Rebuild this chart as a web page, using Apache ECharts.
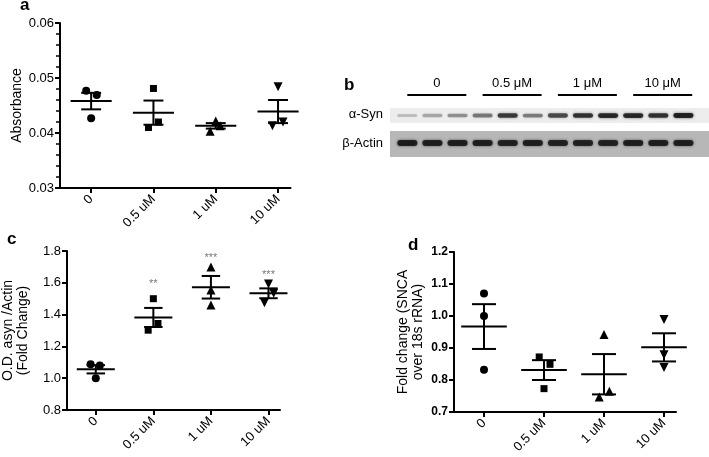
<!DOCTYPE html>
<html>
<head>
<meta charset="utf-8">
<script src="https://cdn.jsdelivr.net/npm/echarts@6/dist/echarts.min.js"></script>
<style>
  html, body { margin: 0; padding: 0; background: #fff; }
  #chart { width: 709px; height: 457px; }
</style>
</head>
<body>
<div id="chart"></div>
<script>
// ---------- 数据 ----------
const doseLabels = ['0', '0.5 uM', '1 uM', '10 uM'];
const blotGroups = ['0', '0.5 μM', '1 μM', '10 μM'];
const groupSymbols = ['circle', 'rect', 'triangle', 'triangle'];
const groupRotate = [0, 0, 0, 180];

// a: Absorbance
const absVals = [[0.0477, 0.0469, 0.0427], [0.0481, 0.0420, 0.0410], [0.0422, 0.0413, 0.0403], [0.0484, 0.0413, 0.0420]];
const absJitter = [[-0.08, 0.09, 0], [0, 0.08, -0.08], [0, 0.07, -0.09], [0, -0.09, 0.08]];
const absMean = [0.0458, 0.0437, 0.0413, 0.0439];
const absSem = [0.0015, 0.0022, 0.0005, 0.0021];

// c: O.D. asyn/Actin
const odVals = [[1.087, 1.08, 1.0], [1.50, 1.344, 1.302], [1.70, 1.555, 1.46], [1.593, 1.534, 1.475]];
const odJitter = [[-0.09, 0.07, 0], [0, 0.08, -0.09], [0, 0, 0], [0, 0.09, -0.07]];
const odMean = [1.056, 1.382, 1.572, 1.534];
const odSem = [0.026, 0.06, 0.071, 0.031];
const odStars = ['', '**', '***', '***'];
const odStarY = [null, 1.59, 1.755, 1.65];

// d: SNCA mRNA
const sncaVals = [[1.07, 1.0, 0.832], [0.872, 0.849, 0.773], [0.942, 0.765, 0.747], [0.989, 0.879, 0.839]];
const sncaJitter = [[0, 0, 0], [-0.08, 0.1, 0], [0, 0.09, -0.08], [0, 0, 0]];
const sncaMean = [0.967, 0.831, 0.818, 0.902];
const sncaSem = [0.07, 0.031, 0.063, 0.044];

// b: western blot band intensity (0-1), 12 lanes
const synBand = [0.22, 0.32, 0.42, 0.52, 0.8, 0.5, 0.72, 0.85, 0.9, 0.9, 0.85, 0.95];
const actinBand = [0.95, 0.93, 0.93, 0.93, 0.9, 0.92, 0.9, 0.9, 0.9, 0.92, 0.92, 0.92];

// ---------- 样式 ----------
const FONT = 'Liberation Sans, Arial, sans-serif';
const INK = '#000';

function xAxisFor(gridIndex, fontSize) {
  return {
    type: 'value', gridIndex, min: -0.5, max: 3.2,
    splitLine: { show: false },
    axisLine: { onZero: false, lineStyle: { color: INK, width: 2 } },
    axisTick: { customValues: [0, 1, 2, 3], length: 5, lineStyle: { color: INK, width: 2 } },
    axisLabel: {
      customValues: [0, 1, 2, 3], rotate: 45, margin: 9,
      color: INK, fontSize, fontFamily: FONT,
      formatter: v => doseLabels[Math.round(v)]
    }
  };
}

function yAxisFor(gridIndex, o) {
  return {
    type: 'value', gridIndex, min: o.min, max: o.max, interval: o.interval,
    name: o.name, nameLocation: 'middle', nameGap: o.nameGap, nameRotate: 90,
    nameTextStyle: { color: INK, fontSize: 14, fontFamily: FONT, lineHeight: 15 },
    splitLine: { show: false },
    axisLine: { onZero: false, lineStyle: { color: INK, width: 2 } },
    axisTick: { length: 5, lineStyle: { color: INK, width: 2 } },
    minorTick: o.minor ? { show: true, splitNumber: 5, length: 4, lineStyle: { color: INK, width: 1.5 } } : { show: false },
    axisLabel: {
      color: INK, fontSize: o.fontSize, fontWeight: o.bold ? 'bold' : 'normal', fontFamily: FONT, margin: 6,
      formatter: v => v.toFixed(o.digits)
    }
  };
}

// 均值 + SEM 误差线
function errBar(halfMean, halfCap) {
  return function (params, api) {
    const x = api.value(0), m = api.value(1), s = api.value(2);
    const p = api.coord([x, m]);
    const hi = api.coord([x, m + s]);
    const lo = api.coord([x, m - s]);
    const w = api.size([halfMean, 0])[0];
    const c = api.size([halfCap, 0])[0];
    const st = { stroke: INK, lineWidth: 2 };
    return {
      type: 'group', children: [
        { type: 'line', shape: { x1: p[0] - w, y1: p[1], x2: p[0] + w, y2: p[1] }, style: st },
        { type: 'line', shape: { x1: hi[0], y1: hi[1], x2: lo[0], y2: lo[1] }, style: st },
        { type: 'line', shape: { x1: hi[0] - c, y1: hi[1], x2: hi[0] + c, y2: hi[1] }, style: st },
        { type: 'line', shape: { x1: lo[0] - c, y1: lo[1], x2: lo[0] + c, y2: lo[1] }, style: st }
      ]
    };
  };
}

const series = [];

function addPanel(axisIndex, vals, jitter, mean, sem, sym, halfMean, halfCap) {
  vals.forEach((g, gi) => {
    series.push({
      type: 'scatter', xAxisIndex: axisIndex, yAxisIndex: axisIndex,
      symbol: groupSymbols[gi], symbolRotate: groupRotate[gi],
      symbolSize: groupSymbols[gi] === 'triangle' ? sym + 1 : (groupSymbols[gi] === 'rect' ? sym - 1 : sym),
      itemStyle: { color: INK, opacity: 1 },
      data: g.map((v, k) => [gi + jitter[gi][k], v]),
      z: 3
    });
  });
  series.push({
    type: 'custom', xAxisIndex: axisIndex, yAxisIndex: axisIndex,
    renderItem: errBar(halfMean, halfCap),
    data: mean.map((m, i) => [i, m, sem[i]]),
    z: 4
  });
}

addPanel(0, absVals, absJitter, absMean, absSem, 8, 0.33, 0.16);
addPanel(1, odVals, odJitter, odMean, odSem, 8, 0.33, 0.16);
addPanel(2, sncaVals, sncaJitter, sncaMean, sncaSem, 8, 0.38, 0.2);

// 显著性星号
series.push({
  type: 'scatter', xAxisIndex: 1, yAxisIndex: 1, symbolSize: 0,
  data: odStars.map((s, i) => ({ value: [i, odStarY[i]], star: s })).filter(d => d.star),
  label: {
    show: true, position: 'inside', color: '#555', fontSize: 11, fontFamily: FONT,
    formatter: p => p.data.star
  }
});

// ---------- 印迹 (b) ----------
const SYN_TOP = 8, SYN_BOT = 23, ACT_TOP = 31, ACT_BOT = 57;
series.push({
  type: 'custom', xAxisIndex: 3, yAxisIndex: 3,
  data: [[0], [1]],
  renderItem: (params, api) => {
    const row = api.value(0);
    const cs = params.coordSys;
    const t = api.coord([0, row ? ACT_TOP : SYN_TOP])[1];
    const b = api.coord([0, row ? ACT_BOT : SYN_BOT])[1];
    return { type: 'rect', shape: { x: cs.x, y: t, width: cs.width, height: b - t }, style: { fill: row ? '#b7b7b7' : '#ededed' } };
  },
  z: 1
});
series.push({
  type: 'custom', xAxisIndex: 3, yAxisIndex: 3,
  data: synBand.map((v, i) => [i, 0, v]).concat(actinBand.map((v, i) => [i, 1, v])),
  renderItem: (params, api) => {
    const lane = api.value(0), row = api.value(1), a = api.value(2);
    const yc = row ? (ACT_TOP + ACT_BOT) / 2 - 1 : (SYN_TOP + SYN_BOT) / 2;
    const c = api.coord([lane, yc]);
    const w = api.size([0.8, 0])[0];
    const h = row ? 6 : 2.5 + a * 2.5;
    return {
      type: 'rect',
      shape: { x: c[0] - w / 2, y: c[1] - h / 2, width: w, height: h, r: h / 2 },
      style: { fill: 'rgba(15,15,15,' + a * 0.9 + ')', shadowBlur: 3, shadowColor: 'rgba(15,15,15,' + a * 0.7 + ')' }
    };
  },
  z: 2
});
series.push({
  type: 'custom', xAxisIndex: 3, yAxisIndex: 3,
  data: blotGroups.map((g, i) => [i * 3 + 1, i]),
  renderItem: (params, api) => {
    const mid = api.value(0), gi = api.value(1);
    const l = api.coord([mid - 1.0, -5]);
    const r = api.coord([mid + 1.35, -5]);
    return {
      type: 'group', children: [
        { type: 'line', shape: { x1: l[0], y1: l[1], x2: r[0], y2: r[1] }, style: { stroke: INK, lineWidth: 2 } },
        { type: 'text', style: { text: blotGroups[gi], x: (l[0] + r[0]) / 2, y: l[1] - 5, textAlign: 'center', textVerticalAlign: 'bottom', fill: INK, font: '13px ' + FONT } }
      ]
    };
  },
  z: 3
});

const chart = echarts.init(document.getElementById('chart'));
chart.setOption({
  animation: false,
  grid: [
    { left: 60, top: 23, width: 230.5, height: 165 },
    { left: 59, top: 251, width: 221, height: 159 },
    { left: 454, top: 252, width: 222, height: 160 },
    { left: 390, top: 100, width: 319, height: 60 }
  ],
  xAxis: [
    xAxisFor(0, 13), xAxisFor(1, 13), xAxisFor(2, 13),
    { type: 'value', gridIndex: 3, min: -0.69, max: 12.02, show: false }
  ],
  yAxis: [
    yAxisFor(0, { min: 0.03, max: 0.06, interval: 0.01, name: 'Absorbance', nameGap: 35, minor: true, fontSize: 13, digits: 2 }),
    yAxisFor(1, { min: 0.8, max: 1.8, interval: 0.2, name: 'O.D. asyn /Actin\n(Fold Change)', nameGap: 36, fontSize: 13, digits: 1 }),
    yAxisFor(2, { min: 0.7, max: 1.2, interval: 0.1, name: 'Fold change (SNCA\nover 18s rRNA)', nameGap: 28, fontSize: 12, bold: true, digits: 1 }),
    { type: 'value', gridIndex: 3, min: 0, max: 60, inverse: true, show: false }
  ],
  graphic: [
    { type: 'text', left: 20, top: -3, style: { text: 'a', font: 'bold 17px ' + FONT, fill: INK } },
    { type: 'text', left: 344, top: 77, style: { text: 'b', font: 'bold 17px ' + FONT, fill: INK } },
    { type: 'text', left: 7, top: 231, style: { text: 'c', font: 'bold 17px ' + FONT, fill: INK } },
    { type: 'text', left: 408, top: 237, style: { text: 'd', font: 'bold 17px ' + FONT, fill: INK } },
    { type: 'text', right: 326, top: 108, style: { text: 'α-Syn', font: '13px ' + FONT, fill: INK } },
    { type: 'text', right: 326, top: 137, style: { text: 'β-Actin', font: '13px ' + FONT, fill: INK } }
  ],
  series
});
</script>
</body>
</html>
